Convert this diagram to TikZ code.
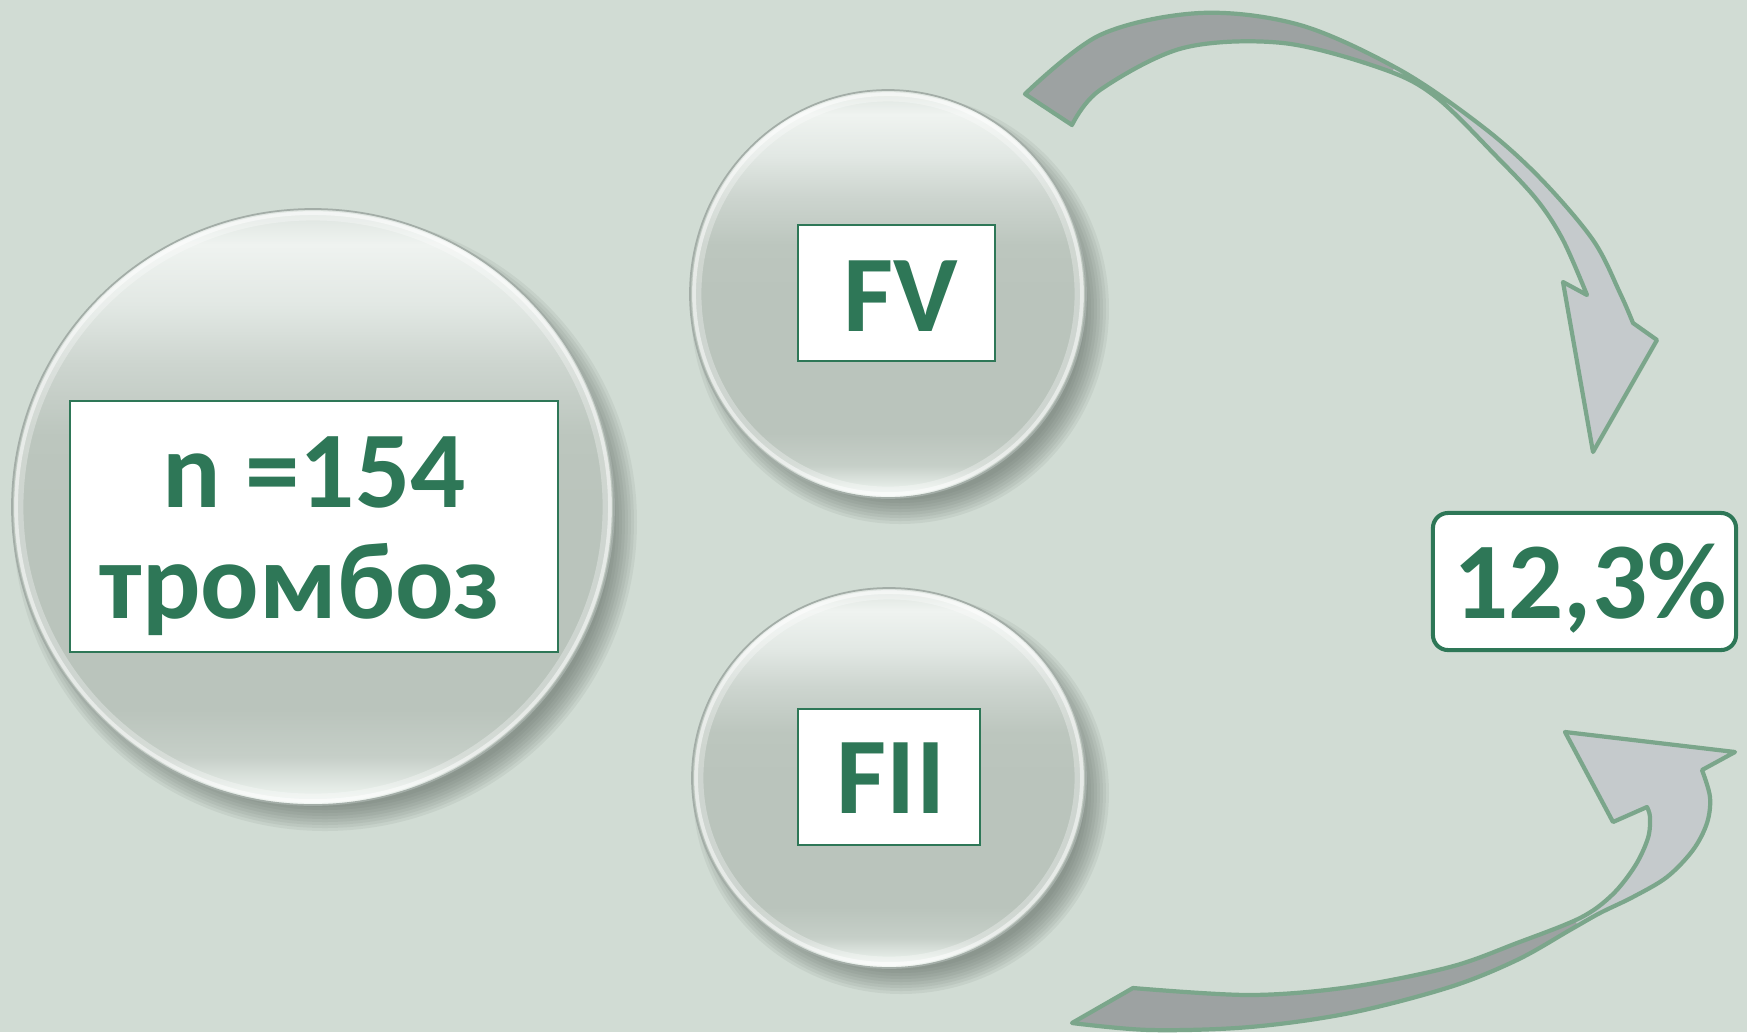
\documentclass[tikz,border=0pt]{standalone}
\usepackage{fontspec}
\newfontfamily\cfont{Carlito}
\definecolor{bg}{HTML}{D1DCD4}
\definecolor{tgreen}{HTML}{2E7757}
\definecolor{arrline}{HTML}{7BA68B}
\definecolor{arrdark}{HTML}{9DA2A2}
\definecolor{arrlight}{HTML}{C5CACC}
\definecolor{shadowc}{HTML}{58625C}
\definecolor{rimc}{HTML}{A3ADA7}
\definecolor{g0}{HTML}{F3F7F4}
\definecolor{g1}{HTML}{E4EBE6}
\definecolor{g2}{HTML}{C6CFC8}
\definecolor{g3}{HTML}{BAC4BC}
\definecolor{g4}{HTML}{BCC6BE}
\definecolor{g5}{HTML}{CDD5CF}
\definecolor{g6}{HTML}{E2E8E4}
\definecolor{g7}{HTML}{EFF3F0}
\definecolor{g8}{HTML}{DCE3DE}
\pgfdeclareverticalshading{glass}{100bp}{color(0bp)=(g0); color(25bp)=(g0); color(26.5bp)=(g1); color(29bp)=(g2); color(33bp)=(g3); color(50bp)=(g3); color(56bp)=(g4); color(62bp)=(g5); color(67bp)=(g6); color(72bp)=(g7); color(75bp)=(g8); color(100bp)=(g8)}
\newcommand\glassdisc[4]{%
  \foreach \k in {0,...,8}{%
    \pgfmathsetmacro\rxx{#3-13+3*\k}\pgfmathsetmacro\ryy{#4-13+3*\k}%
    \fill[shadowc, opacity=0.085] (#1+12,#2+15) ellipse [x radius=\rxx, y radius=\ryy];}
  \shade[shading=glass] (#1,#2) ellipse [x radius=#3, y radius=#4];
  \draw[white, opacity=0.3, line width=2.5pt] (#1,#2) ellipse [x radius=#3-7, y radius=#4-7];
  \draw[white, opacity=0.5, line width=1.1pt] (#1,#2) ellipse [x radius=#3-4, y radius=#4-4];
  \draw[rimc, line width=0.5pt] (#1,#2) ellipse [x radius=#3, y radius=#4];
}
\tikzset{
  txt/.style={font=\cfont\bfseries\fontsize{31}{32}\selectfont, text=tgreen, inner sep=0pt, anchor=base},
  box/.style={draw=tgreen, fill=white, line width=0.6pt, inner sep=0pt},
  pctbox/.style={draw=tgreen, fill=white, line width=1.15pt, rounded corners=4.3pt, inner sep=0pt},
  arroutline/.style={draw=arrline, line width=1.2pt, line join=round}
}
\begin{document}
\begin{tikzpicture}[x=0.01cm, y=-0.01cm]
\useasboundingbox (0,0) rectangle (1747,1032);
\fill[bg] (0,0) rectangle (1747,1032);

% circles
\glassdisc{313}{507}{301}{298}
\glassdisc{888}{294}{198}{204}
\glassdisc{889}{778}{197}{190}

% boxes
\node[box, minimum width=4.88cm, minimum height=2.51cm] (box1) at (314,526.5) {};
\node[box, minimum width=1.97cm, minimum height=1.36cm] (boxfv) at (896.5,293) {};
\node[box, minimum width=1.82cm, minimum height=1.36cm] (boxfii) at (889,777) {};
\node[pctbox, minimum width=3.03cm, minimum height=1.37cm] (boxpct) at (1584.5,581.5) {};

% texts
\node[txt] (tn) at (314,507) {n =154};
\node[txt] (tt) at (300,618) {тромбоз};
\node[txt] (tfv) at (901,331) {FV};
\node[txt] (tfii) at (891,813) {FII};
\node[txt] (tpct) at (1590,618) {12,3\%};

% top arrow
\path[save path=\TopArr] (1025,94)
  -- plot[smooth, tension=0.55] coordinates {(1025,94) (1100,35) (1200,13) (1300,25) (1400,70) (1483,127) (1540,178) (1593,240) (1620,293) (1633,323)}
  -- (1657,340) -- (1593,452) -- (1563,282) -- (1587,295)
  -- plot[smooth, tension=0.55] coordinates {(1587,295) (1563,240) (1537,200) (1497,157) (1436,97) (1383,69) (1283,43) (1183,48) (1100,90) (1072,125)}
  -- cycle;
\path[use path=\TopArr, fill=arrlight];
\begin{scope}
  \clip (1337,170) -- (1449,-30) -- (900,-30) -- (900,170) -- cycle;
  \path[use path=\TopArr, fill=arrdark];
\end{scope}
\path[use path=\TopArr, arroutline];

% bottom arrow
\path[save path=\BotArr] (1072,1023) -- (1133,988)
  -- plot[smooth, tension=0.55] coordinates {(1133,988) (1250,995) (1350,987) (1450,967) (1517,943) (1580,918) (1612,895) (1635,866) (1648,838) (1650,817) (1647,807)}
  -- (1613,822) -- (1565,732) -- (1735,752) -- (1702,770)
  -- plot[smooth, tension=0.55] coordinates {(1702,770) (1710,797) (1707,823) (1693,850) (1667,877) (1633,897) (1600,913) (1570,930) (1517,960) (1450,987) (1350,1013) (1250,1027) (1150,1030) (1072,1023)}
  -- cycle;
\path[use path=\BotArr, fill=arrlight];
\begin{scope}
  \clip (1530,822) -- (1630,1040) -- (1000,1040) -- (1000,822) -- cycle;
  \path[use path=\BotArr, fill=arrdark];
\end{scope}
\path[use path=\BotArr, arroutline];
\end{tikzpicture}
\end{document}
